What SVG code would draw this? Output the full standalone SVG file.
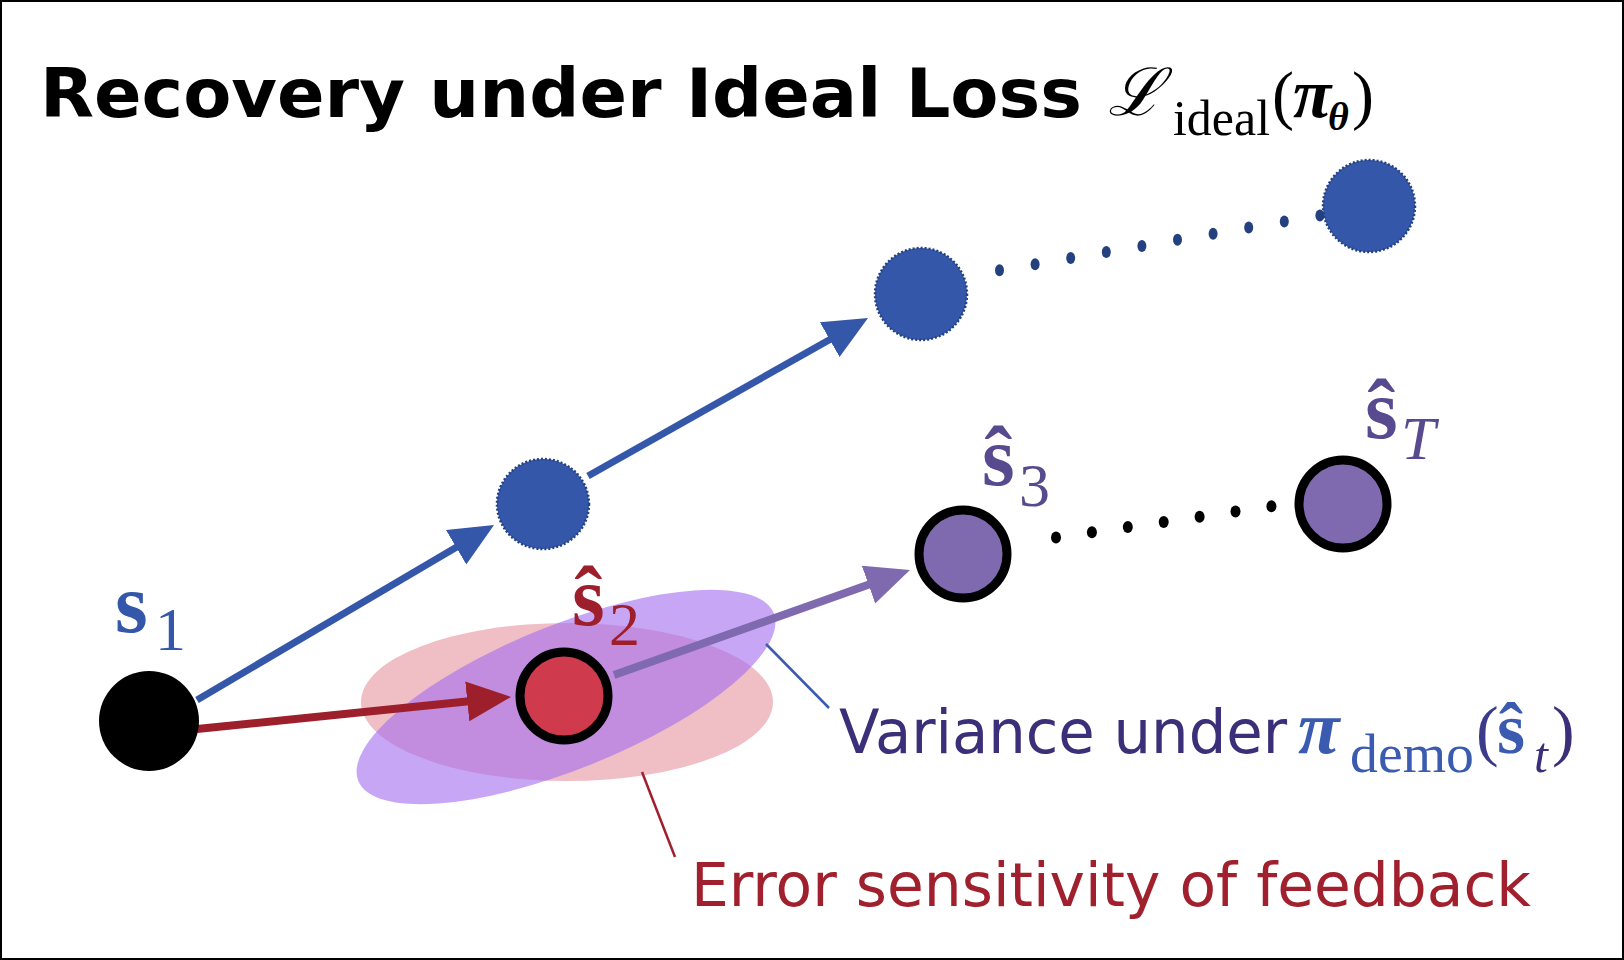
<svg xmlns="http://www.w3.org/2000/svg" width="1624" height="960" viewBox="0 0 1624 960">
<defs>
<style>
.title{font-family:"DejaVu Sans","Verdana",sans-serif;font-weight:bold;font-size:67px;fill:#000}
.math{font-family:"Liberation Serif","DejaVu Serif",serif}
.lbl{font-family:"DejaVu Sans","Verdana",sans-serif;font-size:60px}
.ghost{fill:#3457AA;stroke:#23407F;stroke-width:2.5;stroke-dasharray:2 2}
.state{stroke:#000;stroke-width:9}
.bdot{fill:#24417F}
.kdot{fill:#000}
</style>
<marker id="hBlue" markerUnits="userSpaceOnUse" markerWidth="46" markerHeight="42" refX="14" refY="20" orient="auto" viewBox="0 0 46 42"><path d="M0,0 L44,20 L0,40 Z" fill="#3457AA"/></marker>
<marker id="hRed" markerUnits="userSpaceOnUse" markerWidth="46" markerHeight="42" refX="14" refY="20" orient="auto" viewBox="0 0 46 42"><path d="M0,0 L44,20 L0,40 Z" fill="#9E1F2C"/></marker>
<marker id="hPurple" markerUnits="userSpaceOnUse" markerWidth="46" markerHeight="42" refX="14" refY="20" orient="auto" viewBox="0 0 46 42"><path d="M0,0 L44,20 L0,40 Z" fill="#7F6AB0"/></marker>
</defs>
<rect x="1" y="1" width="1622" height="958" fill="#fff" stroke="#000" stroke-width="2"/>
<g id="title">
<text class="title" x="40" y="117" textLength="1042" lengthAdjust="spacingAndGlyphs">Recovery under Ideal Loss</text>
<text class="math" x="1108" y="115" font-size="66" font-style="italic">ℒ</text>
<text class="math" x="1173" y="135" font-size="50" textLength="97" lengthAdjust="spacingAndGlyphs">ideal</text>
<text class="math" x="1272" y="117" font-size="66">(</text>
<text class="math" x="1293" y="117" font-size="70" font-style="italic" font-weight="bold">π</text>
<text class="math" x="1328" y="130" font-size="40" font-style="italic" font-weight="bold">θ</text>
<text class="math" x="1352" y="117" font-size="66">)</text>
</g>
<g id="ellipses">
<ellipse id="error-ellipse" cx="567" cy="702" rx="206" ry="79" fill="#F0BFC6"/>
<ellipse id="variance-ellipse" cx="566" cy="697" rx="224" ry="72" transform="rotate(-22 566 697)" fill="#A36BF0" fill-opacity="0.6"/>
</g>
<g id="connectors">
<path d="M197,700 L468.2,540.2" stroke="#3457AA" stroke-width="7" fill="none" marker-end="url(#hBlue)"/>
<path d="M588,476 L841.9,332.7" stroke="#3457AA" stroke-width="7" fill="none" marker-end="url(#hBlue)"/>
<path d="M197,729 L481.2,700" stroke="#9E1F2C" stroke-width="8" fill="none" marker-end="url(#hRed)"/>
<path d="M614,675 L881.7,580" stroke="#7F6AB0" stroke-width="8" fill="none" marker-end="url(#hPurple)"/>
<line x1="766" y1="644" x2="829" y2="708" stroke="#3A5BB0" stroke-width="2.5"/>
<line x1="642" y1="772" x2="675" y2="857" stroke="#A0202E" stroke-width="2.5"/>
<g id="blue-dots">
<ellipse class="bdot" cx="999.5" cy="270.3" rx="4.5" ry="6"/>
<ellipse class="bdot" cx="1035.1" cy="264.2" rx="4.5" ry="6"/>
<ellipse class="bdot" cx="1070.7" cy="258.1" rx="4.5" ry="6"/>
<ellipse class="bdot" cx="1106.3" cy="252.0" rx="4.5" ry="6"/>
<ellipse class="bdot" cx="1141.9" cy="245.9" rx="4.5" ry="6"/>
<ellipse class="bdot" cx="1177.5" cy="239.8" rx="4.5" ry="6"/>
<ellipse class="bdot" cx="1213.1" cy="233.7" rx="4.5" ry="6"/>
<ellipse class="bdot" cx="1248.7" cy="227.6" rx="4.5" ry="6"/>
<ellipse class="bdot" cx="1284.3" cy="221.5" rx="4.5" ry="6"/>
<ellipse class="bdot" cx="1319.9" cy="215.4" rx="4.5" ry="6"/>
</g>
<g id="black-dots">
<ellipse class="kdot" cx="1056" cy="537.5" rx="5" ry="6"/>
<ellipse class="kdot" cx="1091.9" cy="532.3" rx="5" ry="6"/>
<ellipse class="kdot" cx="1127.8" cy="527.1" rx="5" ry="6"/>
<ellipse class="kdot" cx="1163.7" cy="521.9" rx="5" ry="6"/>
<ellipse class="kdot" cx="1199.6" cy="516.7" rx="5" ry="6"/>
<ellipse class="kdot" cx="1235.5" cy="511.5" rx="5" ry="6"/>
<ellipse class="kdot" cx="1271.4" cy="506.3" rx="5" ry="6"/>
</g>
</g>
<g id="node-s1">
<circle cx="149" cy="721" r="50" fill="#000"/>
<text class="math" x="115" y="632" font-size="84" font-weight="bold" fill="#3457AA">s</text>
<text class="math" x="155" y="650" font-size="62" fill="#3457AA">1</text>
</g>
<g id="node-g1"><ellipse class="ghost" cx="543" cy="504" rx="46" ry="45"/></g>
<g id="node-g2"><ellipse class="ghost" cx="921" cy="294" rx="46" ry="46"/></g>
<g id="node-g3"><ellipse class="ghost" cx="1369" cy="206" rx="46" ry="46"/></g>
<g id="node-s2">
<circle class="state" cx="564" cy="696" r="44" fill="#CF3A4C"/>
<text class="math" x="572" y="625" font-size="84" font-weight="bold" fill="#9E1F2C">ŝ</text>
<text class="math" x="609" y="645" font-size="62" fill="#9E1F2C">2</text>
</g>
<g id="node-s3">
<circle class="state" cx="963" cy="554" r="44" fill="#7F6AB0"/>
<text class="math" x="982" y="485" font-size="84" font-weight="bold" fill="#574A8F">ŝ</text>
<text class="math" x="1019" y="506" font-size="62" fill="#574A8F">3</text>
</g>
<g id="node-sT">
<circle class="state" cx="1343" cy="504" r="44" fill="#7F6AB0"/>
<text class="math" x="1365" y="438" font-size="84" font-weight="bold" fill="#574A8F">ŝ</text>
<text class="math" x="1401" y="459" font-size="62" font-style="italic" fill="#574A8F">T</text>
</g>
<g id="label-variance">
<text class="lbl" x="839" y="753" fill="#3C2F7A" textLength="448" lengthAdjust="spacingAndGlyphs">Variance under</text>
<text class="math" x="1298" y="753" font-size="76" font-style="italic" font-weight="bold" fill="#3A5BB0">π</text>
<text class="math" x="1350" y="772" font-size="54" fill="#3A5BB0" textLength="124" lengthAdjust="spacingAndGlyphs">demo</text>
<text class="math" x="1476" y="753" font-size="68" fill="#3C3A8A">(</text>
<text class="math" x="1497" y="753" font-size="72" font-weight="bold" fill="#3A5BB0">ŝ</text>
<text class="math" x="1534" y="772" font-size="50" font-style="italic" fill="#3C2F7A">t</text>
<text class="math" x="1552" y="753" font-size="68" fill="#3C2F7A">)</text>
</g>
<g id="label-error">
<text class="lbl" x="691" y="906" fill="#A0202E" textLength="840" lengthAdjust="spacingAndGlyphs">Error sensitivity of feedback</text>
</g>
</svg>
